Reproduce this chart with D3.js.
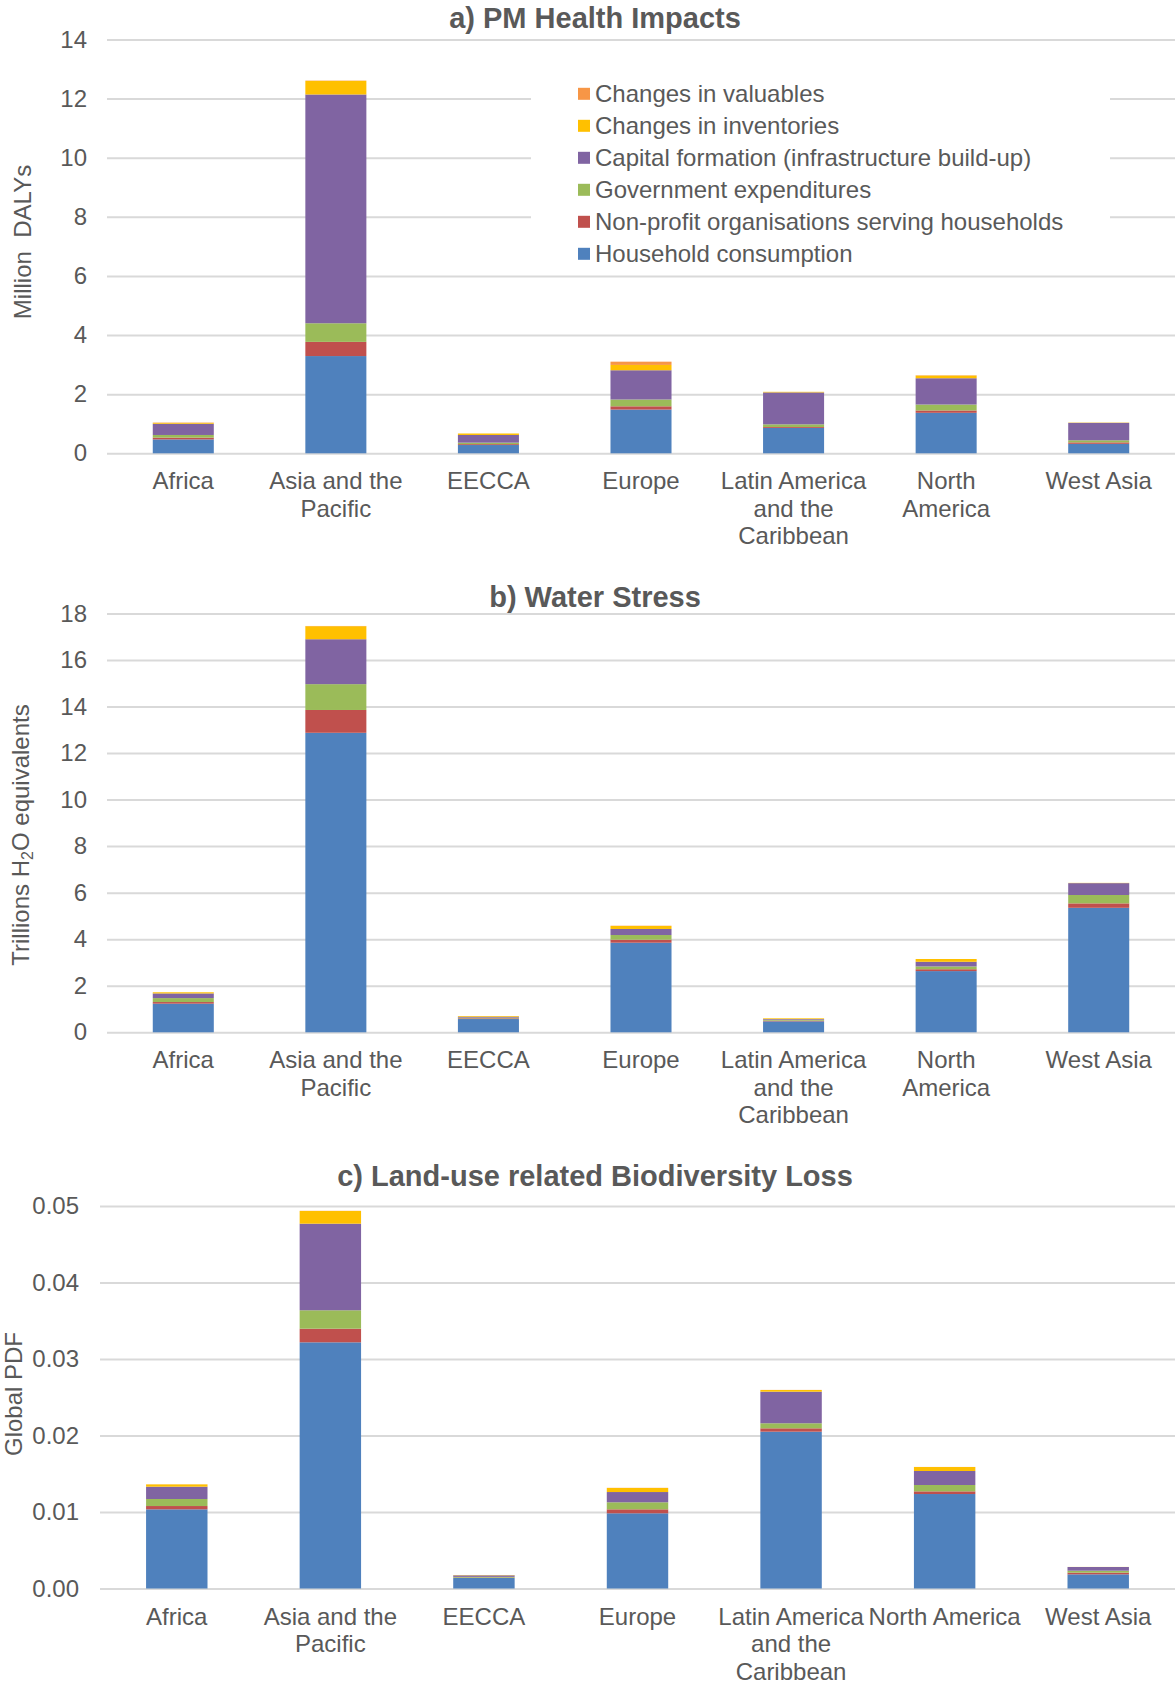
<!DOCTYPE html>
<html>
<head>
<meta charset="utf-8">
<script src="https://cdn.jsdelivr.net/npm/d3@7"></script>
<style>
  body { margin: 0; background: #fff; }
  svg text { font-family: "Liberation Sans", Arial, sans-serif; fill: #595959; }
</style>
</head>
<body>
<svg id="chart" width="1176" height="1686"></svg>
<script>
////////////////////////////////////////////////////////////////////////
// Stacked bars per region, three panels (PM, water, land use)
////////////////////////////////////////////////////////////////////////

var regions = ["Africa", "Asia and the Pacific", "EECCA", "Europe",
  "Latin America and the Caribbean", "North America", "West Asia"];

// tick label line breaks (panels a and b wrap "North America", c does not)
var regionLinesAB = [["Africa"], ["Asia and the", "Pacific"], ["EECCA"], ["Europe"],
  ["Latin America", "and the", "Caribbean"], ["North", "America"], ["West Asia"]];
var regionLinesC = [["Africa"], ["Asia and the", "Pacific"], ["EECCA"], ["Europe"],
  ["Latin America", "and the", "Caribbean"], ["North America"], ["West Asia"]];

// bottom -> top
var seriesNames = ["Household consumption", "Non-profit organisations serving households",
  "Government expenditures", "Capital formation (infrastructure build-up)",
  "Changes in inventories", "Changes in valuables"];

// a) PM health impacts, million DALYs
var pmHousehold   = [0.47, 3.29, 0.28, 1.48, 0.86, 1.37, 0.32];
var pmNonprofit   = [0.06, 0.48, 0.03, 0.11, 0.03, 0.08, 0.05];
var pmGovernment  = [0.09, 0.63, 0.05, 0.23, 0.09, 0.20, 0.07];
var pmCapital     = [0.38, 7.74, 0.26, 0.99, 1.08, 0.89, 0.59];
var pmInventories = [0.03, 0.46, 0.05, 0.18, 0.02, 0.09, 0.01];
var pmValuables   = [0.01, 0.01, 0.00, 0.11, 0.00, 0.01, 0.00];
var pmTicks = [0, 2, 4, 6, 8, 10, 12, 14];

// b) water stress, trillions H2O eq
var wsHousehold   = [1.23, 12.87, 0.57, 3.85, 0.47, 2.63, 5.35];
var wsNonprofit   = [0.07, 0.98, 0.03, 0.13, 0.03, 0.08, 0.19];
var wsGovernment  = [0.17, 1.11, 0.03, 0.20, 0.04, 0.12, 0.36];
var wsCapital     = [0.20, 1.93, 0.04, 0.26, 0.03, 0.20, 0.51];
var wsInventories = [0.05, 0.56, 0.03, 0.13, 0.03, 0.12, 0.01];
var wsValuables   = [0.00, 0.01, 0.00, 0.01, 0.00, 0.00, 0.00];
var wsTicks = [0, 2, 4, 6, 8, 10, 12, 14, 16, 18];

// c) land-use biodiversity loss, global PDF
var bdHousehold   = [0.01035, 0.03218, 0.00137, 0.00983, 0.02050, 0.01235, 0.00185];
var bdNonprofit   = [0.00043, 0.00178, 0.00005, 0.00052, 0.00044, 0.00035, 0.00022];
var bdGovernment  = [0.00092, 0.00241, 0.00010, 0.00092, 0.00066, 0.00083, 0.00026];
var bdCapital     = [0.00161, 0.01132, 0.00020, 0.00134, 0.00413, 0.00183, 0.00048];
var bdInventories = [0.00030, 0.00166, 0.00004, 0.00053, 0.00022, 0.00052, 0.00001];
var bdValuables   = [0.00001, 0.00002, 0.00000, 0.00002, 0.00001, 0.00001, 0.00000];
var bdTicks = [0, 0.01, 0.02, 0.03, 0.04, 0.05];

//              blue       red        green      purple     yellow     orange
var colors = ["#4F81BD", "#C0504D", "#9BBB59", "#8064A2", "#FFC000", "#F79646"];

var labelFont = "24px";
var titleFont = "29px";

var svg = d3.select("#chart");


function buildRows(seriesArrays)
  {
  return regions.map(function(r, i)
    {
    var row = {region: r};
    seriesNames.forEach(function(s, k) { row[s] = seriesArrays[k][i]; });
    return row;
    });
  }


function drawPanel(p)
  {
  var x = d3.scaleBand().domain(regions).range([p.left, p.right]).paddingInner(0.6).paddingOuter(0.3);
  var y = d3.scaleLinear().domain([0, p.ticks[p.ticks.length - 1]]).range([p.bottom, p.top]);

  var g = svg.append("g");

  //Gridlines + tick labels
  var yAxis = g.append("g")
    .attr("transform", "translate(" + p.left + ",0)")
    .call(d3.axisLeft(y).tickValues(p.ticks).tickFormat(p.fmt).tickSize(-(p.right - p.left)).tickPadding(p.tickPad));
  yAxis.select(".domain").remove();
  yAxis.selectAll(".tick line").attr("stroke", "#d9d9d9").attr("stroke-width", 2);
  yAxis.selectAll(".tick text").style("font-size", labelFont).attr("fill", "#595959");

  //Legend backdrop hides the gridlines behind it
  if (p.legend)
    {
    g.append("rect").attr("x", 531).attr("y", 68).attr("width", 579).attr("height", 200).attr("fill", "#fff");
    var leg = g.append("g");
    var order = seriesNames.slice().reverse();
    order.forEach(function(s, i)
      {
      var cy = 93.8 + i * 32;
      leg.append("rect").attr("x", 578).attr("y", cy - 6).attr("width", 12).attr("height", 12)
        .attr("fill", colors[seriesNames.indexOf(s)]);
      leg.append("text").attr("x", 595).attr("y", cy).attr("dy", "0.36em")
        .style("font-size", labelFont).text(s);
      });
    }

  //Bars
  var stack = d3.stack().keys(seriesNames);
  var layers = stack(buildRows(p.data));
  g.selectAll("g.layer")
    .data(layers)
    .enter()
    .append("g")
    .attr("fill", function(d, i) { return colors[i]; })
    .selectAll("rect")
    .data(function(d) { return d; })
    .enter()
    .append("rect")
    .attr("x", function(d) { return x(d.data.region); })
    .attr("width", x.bandwidth())
    .attr("y", function(d) { return y(d[1]); })
    .attr("height", function(d) { return Math.max(0, y(d[0]) - y(d[1])); });

  //Category labels
  var xAxis = g.append("g")
    .attr("transform", "translate(0," + p.bottom + ")")
    .call(d3.axisBottom(x).tickSize(0).tickFormat(""));
  xAxis.select(".domain").remove();
  xAxis.selectAll(".tick").each(function(d, i)
    {
    var t = d3.select(this).append("text")
      .attr("text-anchor", "middle")
      .style("font-size", labelFont);
    p.labels[i].forEach(function(line, k)
      {
      t.append("tspan").attr("x", 0).attr("y", p.labelY + k * 27.5).text(line);
      });
    });

  //Title
  g.append("text").attr("x", 595).attr("y", p.titleY)
    .attr("text-anchor", "middle")
    .style("font-size", titleFont).style("font-weight", "bold")
    .text(p.title);

  //Y axis title
  var yt = g.append("text")
    .attr("transform", "translate(" + p.yTitleX + "," + p.yTitleY + ") rotate(-90)")
    .attr("text-anchor", "middle")
    .attr("dy", "0.36em")
    .style("font-size", labelFont);
  p.yTitle(yt);
  }


drawPanel({
  left: 107, right: 1175, top: 39.5, bottom: 453.3,
  ticks: pmTicks, fmt: d3.format("d"), tickPad: 20,
  data: [pmHousehold, pmNonprofit, pmGovernment, pmCapital, pmInventories, pmValuables],
  labels: regionLinesAB, labelY: 36,
  title: "a) PM Health Impacts", titleY: 28,
  yTitleX: 22, yTitleY: 242,
  yTitle: function(t) { t.style("white-space", "pre").text("Million  DALYs"); },
  legend: true
  });

drawPanel({
  left: 107, right: 1175, top: 613.4, bottom: 1032.3,
  ticks: wsTicks, fmt: d3.format("d"), tickPad: 20,
  data: [wsHousehold, wsNonprofit, wsGovernment, wsCapital, wsInventories, wsValuables],
  labels: regionLinesAB, labelY: 36,
  title: "b) Water Stress", titleY: 607,
  yTitleX: 20, yTitleY: 835,
  yTitle: function(t)
    {
    t.append("tspan").text("Trillions H");
    t.append("tspan").attr("dy", "0.3em").style("font-size", "16px").text("2");
    t.append("tspan").attr("dy", "-0.2em").text("O equivalents");
    },
  legend: false
  });

drawPanel({
  left: 100, right: 1175, top: 1206, bottom: 1588.5,
  ticks: bdTicks, fmt: d3.format(".2f"), tickPad: 21,
  data: [bdHousehold, bdNonprofit, bdGovernment, bdCapital, bdInventories, bdValuables],
  labels: regionLinesC, labelY: 36,
  title: "c) Land-use related Biodiversity Loss", titleY: 1186,
  yTitleX: 13, yTitleY: 1394,
  yTitle: function(t) { t.text("Global PDF"); },
  legend: false
  });
</script>
</body>
</html>
